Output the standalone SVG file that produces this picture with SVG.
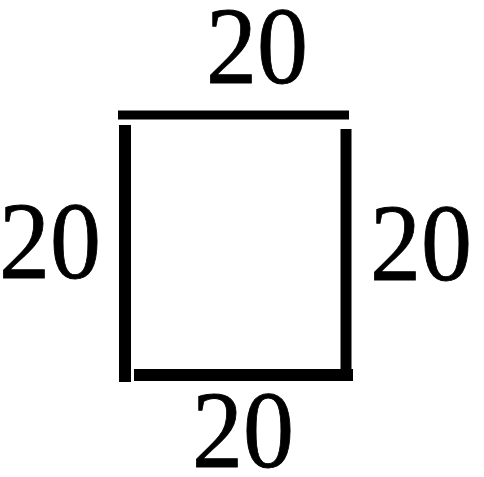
<svg xmlns="http://www.w3.org/2000/svg" width="484" height="477" viewBox="0 0 484 477">
<style>
.lbl{font-family:'Liberation Serif','Times New Roman',serif;font-size:102px;font-weight:normal;fill:#000;stroke:#000;stroke-width:0.8;text-anchor:middle}
.side{stroke:#000;stroke-linecap:butt;fill:none}
</style>
<rect width="484" height="477" fill="#fff"/>
<g id="square">
<line class="side" x1="118" y1="115" x2="349" y2="115" stroke-width="9"/>
<line class="side" x1="125" y1="125" x2="125" y2="382" stroke-width="12"/>
<line class="side" x1="346" y1="129" x2="346" y2="377" stroke-width="11"/>
<line class="side" x1="134" y1="375" x2="353" y2="375" stroke-width="12"/>
</g>
<g id="labels">
<text class="lbl" transform="translate(257 83) scale(1 1.08)">20</text>
<text class="lbl" transform="translate(50 278) scale(1 1.08)">20</text>
<text class="lbl" transform="translate(421 280) scale(1 1.08)">20</text>
<text class="lbl" transform="translate(243 467) scale(1 1.08)">20</text>
</g>
</svg>
